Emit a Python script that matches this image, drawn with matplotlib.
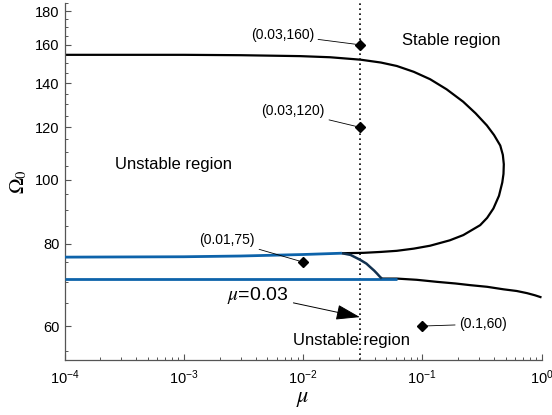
import numpy as np
import matplotlib
matplotlib.use("Agg")
import matplotlib.pyplot as plt
from matplotlib.ticker import FixedLocator, FixedFormatter, LogLocator, NullFormatter

plt.rcParams['font.family'] = ['Liberation Sans', 'DejaVu Sans']
plt.rcParams['mathtext.fontset'] = 'custom'
plt.rcParams['mathtext.rm'] = 'Liberation Sans'
plt.rcParams['mathtext.it'] = 'Liberation Sans:italic'

# ---- data ----
# upper black loop (top branch -> nose -> lower branch)
loop_mu = [1e-4, 1e-3, 3e-3, 0.00946, 0.01687, 0.0304, 0.045, 0.0612, 0.085, 0.1164,
           0.16, 0.2203, 0.28, 0.348, 0.40, 0.451, 0.474, 0.483, 0.480, 0.469,
           0.44, 0.395, 0.35, 0.306, 0.221, 0.17, 0.1164, 0.085, 0.0612, 0.045,
           0.0321, 0.0212]
loop_om = [154.5, 154.5, 154.3, 153.8, 153.2, 151.9, 150.4, 148.6, 145.6, 141.9,
           137.0, 131.2, 126.0, 120.8, 116.8, 112.6, 109.0, 105.5, 102.0, 99.0,
           94.5, 90.4, 87.5, 85.3, 82.4, 80.9, 79.4, 78.6, 78.0, 77.7,
           77.45, 77.35]
# upper blue line
blue_up_mu = [1e-4, 1e-3, 3e-3, 1e-2, 0.0212]
blue_up_om = [76.3, 76.4, 76.6, 77.0, 77.35]
# lower blue line
blue_lo_mu = [1e-4, 0.0615]
blue_lo_om = [70.8, 70.8]
# connecting dark arc
arc_mu = [0.0212, 0.025, 0.0301, 0.034, 0.0366, 0.0395, 0.0416, 0.044, 0.0458]
arc_om = [77.35, 76.9, 75.6, 74.6, 73.7, 72.8, 72.1, 71.3, 70.8]
# lower black tail
tail_mu = [0.0458, 0.0612, 0.09, 0.1327, 0.19, 0.252, 0.35, 0.48, 0.62, 0.755, 0.88, 1.0]
tail_om = [70.8, 70.8, 70.5, 70.0, 69.6, 69.2, 68.8, 68.2, 67.8, 67.3, 66.8, 66.3]
# marked points
pts_mu = [0.03, 0.03, 0.01, 0.1]
pts_om = [160, 120, 75, 60]
pts_lab = ['(0.03,160)', '(0.03,120)', '(0.01,75)', '(0.1,60)']
mu_line = 0.03

yticks = [60, 80, 100, 120, 140, 160, 180]
xticks = [1e-4, 1e-3, 1e-2, 1e-1, 1e0]
xticklabels = [r'$\mathregular{10^{-4}}$', r'$\mathregular{10^{-3}}$', r'$\mathregular{10^{-2}}$',
               r'$\mathregular{10^{-1}}$', r'$\mathregular{10^{0}}$']

# ---- figure ----
fig = plt.figure(figsize=(5.52, 4.15), dpi=100)
ax = fig.add_axes([64.5/552, 55/415, (541.5-64.5)/552, (360-2.7)/415])
ax.set_xscale('log')
ax.set_yscale('log')
ax.set_xlim(1e-4, 1)
ax.set_ylim(53.3, 185.3)

blue = '#0d63aa'
kw = dict(solid_joinstyle='round', solid_capstyle='butt')
ax.plot(tail_mu, tail_om, color='black', lw=1.6, zorder=2, **kw)
ax.plot(loop_mu, loop_om, color='black', lw=1.6, zorder=2, **kw)
ax.plot(blue_up_mu, blue_up_om, color=blue, lw=2.0, zorder=3, **kw)
ax.plot(blue_lo_mu, blue_lo_om, color=blue, lw=2.0, zorder=3, **kw)
ax.plot(arc_mu, arc_om, color='#12314f', lw=1.8, zorder=3, **kw)
ax.axvline(mu_line, color='black', ls=(0, (1, 2)), lw=1.2, zorder=1)

ax.plot(pts_mu, pts_om, 'D', color='black', ms=5, zorder=4)

offsets = [(-46, 10, 'right'), (-35, 16, 'right'), (-48, 22, 'right'), (37, 2, 'left')]
for m, o, lab, (dx, dy, ha) in zip(pts_mu, pts_om, pts_lab, offsets):
    ax.annotate(lab, xy=(m, o), xytext=(dx, dy), textcoords='offset pixels',
                ha=ha, va='center', fontsize=10,
                arrowprops=dict(arrowstyle='-', lw=0.6, color='black', shrinkA=1, shrinkB=3))

ax.annotate(r'$\mu$=0.03', xy=(mu_line, 61.9), xytext=(-72, 22), textcoords='offset pixels',
            ha='right', va='center', fontsize=14, math_fontfamily='stix',
            arrowprops=dict(arrowstyle='-|>,head_length=1.0,head_width=0.32', lw=0.7,
                            color='black', shrinkA=2, shrinkB=0, mutation_scale=15))

ax.text((402-64.5)/477, (360-40.7)/357.3, 'Stable region', transform=ax.transAxes,
        fontsize=12, ha='left', va='center')
ax.text((115-64.5)/477, (360-165)/357.3, 'Unstable region', transform=ax.transAxes,
        fontsize=12, ha='left', va='center')
ax.text((292.7-64.5)/477, (360-340)/357.3, 'Unstable region', transform=ax.transAxes,
        fontsize=12, ha='left', va='center')

# ticks
ax.yaxis.set_major_locator(FixedLocator(yticks))
ax.yaxis.set_major_formatter(FixedFormatter([str(v) for v in yticks]))
ax.yaxis.set_minor_locator(FixedLocator(list(range(55, 190, 5))))
ax.yaxis.set_minor_formatter(NullFormatter())
ax.xaxis.set_major_locator(FixedLocator(xticks))
ax.xaxis.set_major_formatter(FixedFormatter(xticklabels))
ax.xaxis.set_minor_locator(LogLocator(base=10, subs=np.arange(2, 10), numticks=20))
ax.xaxis.set_minor_formatter(NullFormatter())

for s in ['top', 'right']:
    ax.spines[s].set_visible(False)
for s in ['left', 'bottom']:
    ax.spines[s].set_color('#555555')
    ax.spines[s].set_linewidth(0.9)
ax.tick_params(which='both', direction='in', colors='#555555', labelcolor='black', labelsize=10.5)
ax.tick_params(which='major', length=4, width=0.8)
ax.tick_params(which='minor', length=2.5, width=0.7)
ax.tick_params(axis='x', pad=6)

ax.set_ylabel(r'$\Omega_0$', fontsize=15, math_fontfamily='stix', labelpad=4)
ax.set_xlabel(r'$\mu$', fontsize=16, math_fontfamily='stix', labelpad=1)

fig.savefig('out.png', dpi=100)
